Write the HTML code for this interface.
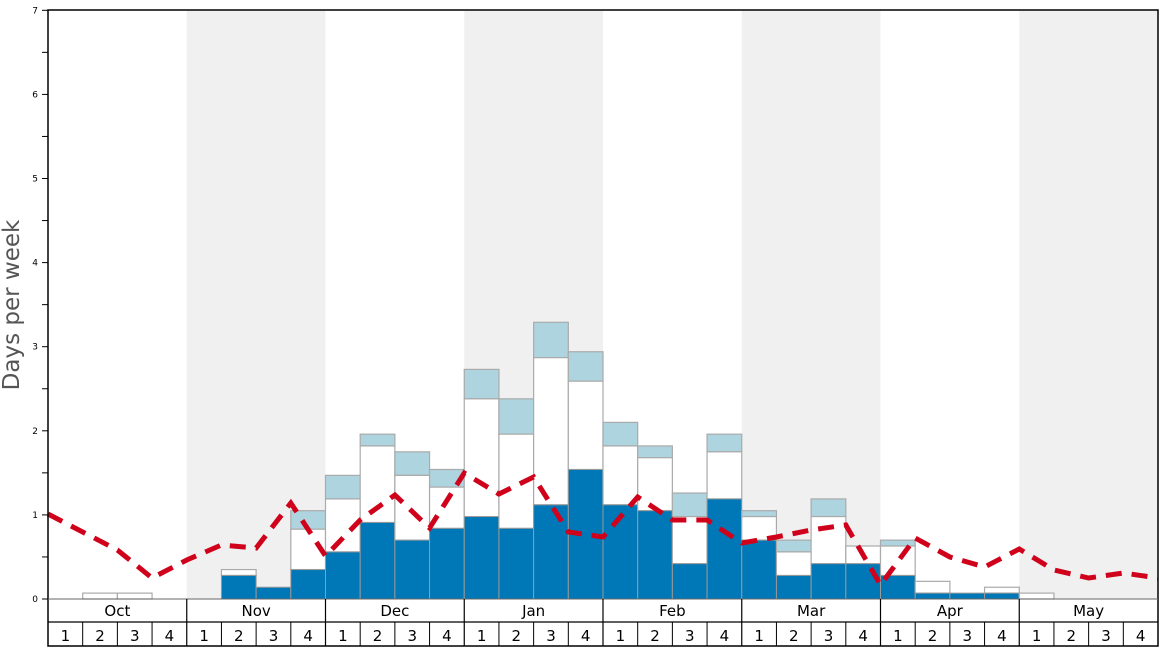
<!DOCTYPE html><html><head><meta charset="utf-8"><style>body{margin:0;background:#fff}svg{display:block;font-family:"DejaVu Sans","Liberation Sans",sans-serif}</style></head><body>
<svg width="1168" height="648" xmlns="http://www.w3.org/2000/svg">
<g id="bg"></g><g id="bars"></g><g id="ln"></g><g id="ax"></g>
<text x="19" y="305" transform="rotate(-90 19 305)" text-anchor="middle" font-size="23" fill="#555">Days per week</text>
</svg>
<script>
const NS="http://www.w3.org/2000/svg";
function el(p,t,a,txt){const e=document.createElementNS(NS,t);for(const k in a)e.setAttribute(k,a[k]);if(txt!=null)e.textContent=txt;document.getElementById(p).appendChild(e);}
const X0=48,W=1110/32,Y0=599,S=84.1;
[1,3,5,7].forEach(m=>el("bg","rect",{x:X0+m*4*W,y:10,width:4*W,height:589,fill:"#f0f0f0"}));
const d=[[0,0,0],[0,.07,.07],[0,.07,.07],[0,0,0],[0,0,0],[.28,.35,.35],[.14,.14,.14],[.35,.83,1.05],
[.56,1.19,1.47],[.91,1.82,1.96],[.70,1.47,1.75],[.84,1.33,1.54],
[.98,2.38,2.73],[.84,1.96,2.38],[1.12,2.87,3.29],[1.54,2.59,2.94],
[1.12,1.82,2.10],[1.05,1.68,1.82],[.42,.98,1.26],[1.19,1.75,1.96],
[.70,.98,1.05],[.28,.56,.70],[.42,.98,1.19],[.42,.63,.63],
[.28,.63,.70],[.07,.21,.21],[.07,.07,.07],[.07,.14,.14],[0,.07,.07],[0,0,0],[0,0,0],[0,0,0]];
d.forEach((v,i)=>{const x=X0+i*W;const y=t=>Y0-t*S;
if(v[2]>v[1])el("bars","rect",{x:x,y:y(v[2]),width:W,height:(v[2]-v[1])*S,fill:"#aed4e0",stroke:"#aaa","stroke-width":1.2});
if(v[1]>v[0])el("bars","rect",{x:x,y:y(v[1]),width:W,height:(v[1]-v[0])*S,fill:"#fff",stroke:"#aaa","stroke-width":1.2});
if(v[0]>0)el("bars","rect",{x:x,y:y(v[0]),width:W,height:v[0]*S,fill:"#0077b6",stroke:"#999","stroke-width":1});});
const ly=[514,532,550,578,560,545,548,503,556,520,495,528,473,494,477,532,537,497,520,520,543,537,530,525,585,538,557,567,549,570,578,573,578];
el("ln","polyline",{points:ly.map((y,i)=>(X0+i*W)+","+y).join(" "),fill:"none",stroke:"#d0021b","stroke-width":5,"stroke-dasharray":"16,10"});
el("ax","rect",{x:X0,y:10,width:1110,height:636,fill:"none",stroke:"#000","stroke-width":1.5});
el("ax","line",{x1:X0,y1:599,x2:1158,y2:599,stroke:"#666","stroke-width":1});
el("ax","line",{x1:X0,y1:622,x2:1158,y2:622,stroke:"#000","stroke-width":1.2});
for(let i=0;i<=14;i++){const y=Y0-i*S/2;el("ax","line",{x1:42,y1:y,x2:48,y2:y,stroke:"#000","stroke-width":1});if(i%2==0)el("ax","text",{x:38,y:y+3,"font-size":9,"text-anchor":"end"},i/2);}
const M=["Oct","Nov","Dec","Jan","Feb","Mar","Apr","May"];
M.forEach((m,j)=>{const x=X0+j*4*W;if(j>0)el("ax","line",{x1:x,y1:599,x2:x,y2:646,stroke:"#000","stroke-width":1.2});el("ax","text",{x:x+2*W,y:616,"font-size":15,"text-anchor":"middle"},m);
for(let k=0;k<4;k++){const xx=x+k*W;if(k>0)el("ax","line",{x1:xx,y1:622,x2:xx,y2:646,stroke:"#000","stroke-width":1});el("ax","text",{x:xx+W/2,y:641,"font-size":15,"text-anchor":"middle"},k+1);}});
</script></body></html>
